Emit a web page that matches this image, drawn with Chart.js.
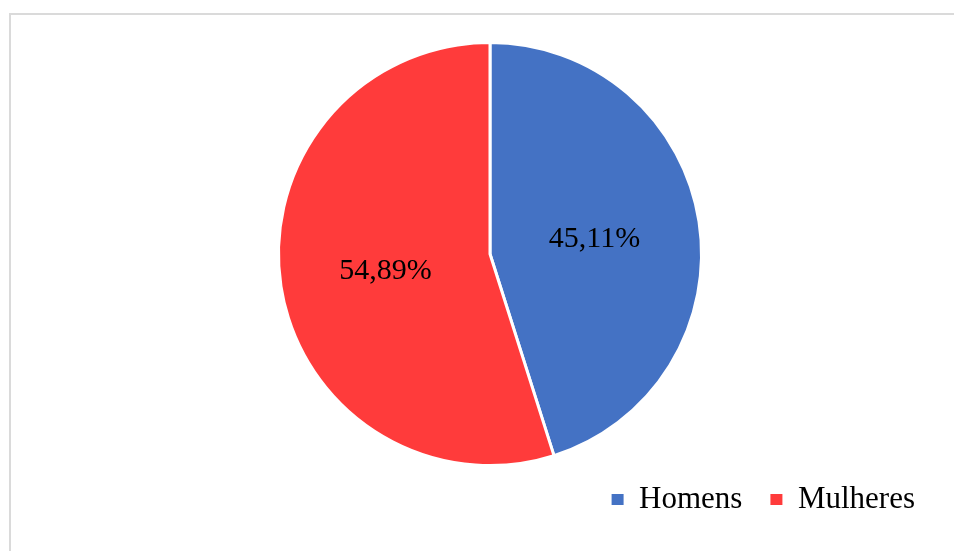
<!DOCTYPE html>
<html>
<head>
<meta charset="utf-8">
<script src="https://cdn.jsdelivr.net/npm/chart.js@4.4.1/dist/chart.umd.min.js"></script>
<style>
    html, body { margin: 0; padding: 0; background: #fff; }
    #wrap { position: relative; width: 954px; height: 551px; overflow: hidden; }
    #frame {
        position: absolute; left: 9px; top: 13px; width: 960px; height: 560px;
        border-top: 2px solid #dadada; border-left: 2px solid #dadada;
    }
    #chart { position: absolute; left: 0; top: 0; }
</style>
</head>
<body>
<div id="wrap">
    <div id="frame"></div>
    <canvas id="chart" width="954" height="551"></canvas>
</div>
<script>
const categories = ["Homens", "Mulheres"];
const values = [45.11, 54.89];
const colors = ["#4472C4", "#FF3B3B"];

const serif = "'Liberation Serif', 'Times New Roman', serif";

// writes the percentage inside each slice
const sliceLabels = {
    id: "sliceLabels",
    afterDatasetsDraw(chart) {
        const ctx = chart.ctx;
        const meta = chart.getDatasetMeta(0);
        ctx.save();
        ctx.font = "30px " + serif;
        ctx.fillStyle = "#000";
        ctx.textAlign = "center";
        ctx.textBaseline = "middle";
        meta.data.forEach((arc, i) => {
            const pos = arc.tooltipPosition();
            const txt = values[i].toFixed(2).replace(".", ",") + "%";
            ctx.fillText(txt, pos.x, pos.y + 1);
        });
        ctx.restore();
    }
};

new Chart(document.getElementById("chart"), {
    type: "pie",
    data: {
        labels: categories,
        datasets: [{
            data: values,
            backgroundColor: colors,
            borderColor: "#ffffff",
            borderWidth: 3,
            radius: 211.5
        }]
    },
    options: {
        responsive: false,
        animation: false,
        layout: {
            padding: { left: 37, right: 11, top: 52, bottom: 26 }
        },
        plugins: {
            legend: {
                position: "bottom",
                align: "end",
                labels: {
                    font: { family: serif, size: 31 },
                    color: "#000",
                    boxWidth: 12,
                    boxHeight: 11,
                    padding: 28,
                    generateLabels: chart => {
                        const items = Chart.overrides.pie.plugins.legend.labels.generateLabels(chart);
                        items.forEach(it => { it.lineWidth = 0; it.strokeStyle = it.fillStyle; });
                        return items;
                    }
                }
            },
            tooltip: { enabled: false }
        }
    },
    plugins: [sliceLabels]
});
</script>
</body>
</html>
